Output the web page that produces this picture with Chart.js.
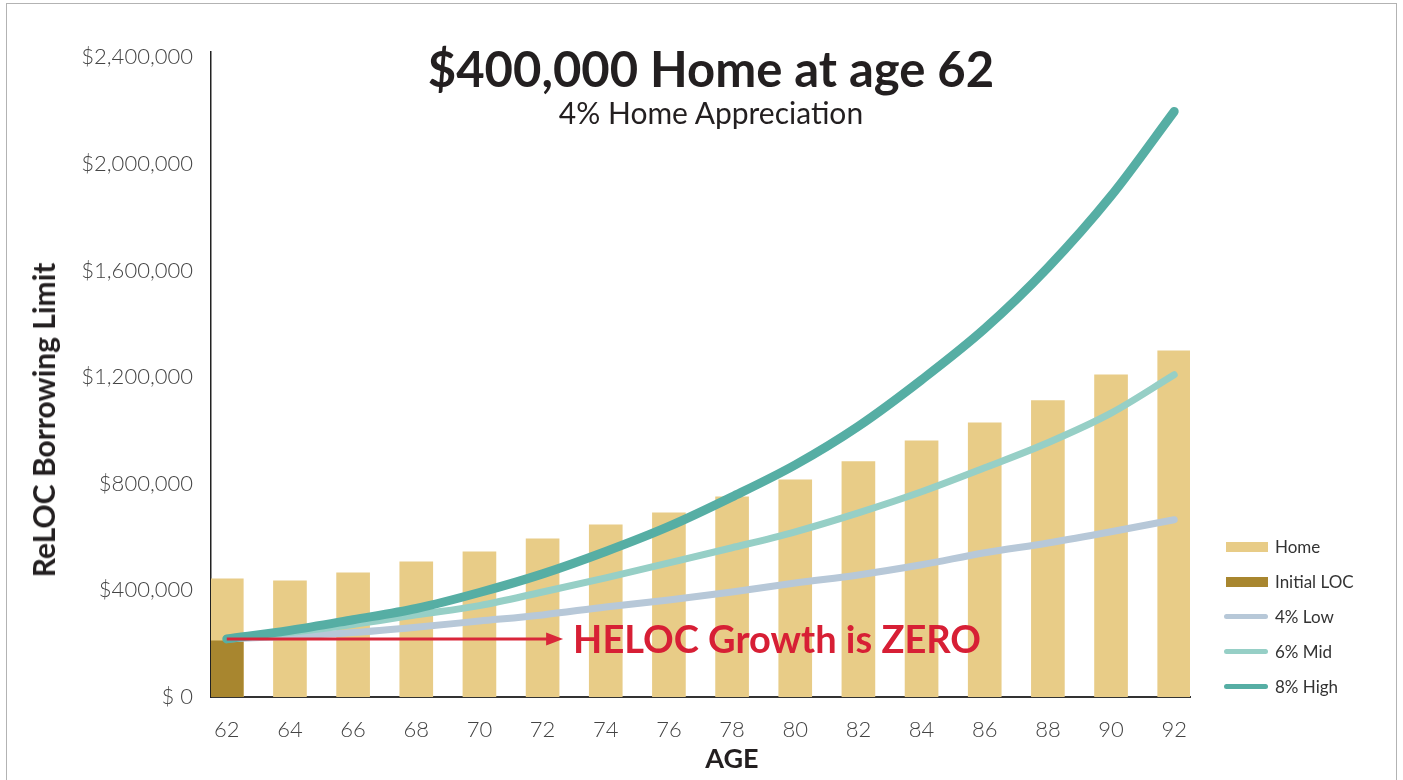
<!DOCTYPE html>
<html lang="en">
<head>
    <meta charset="UTF-8">
    <title>$400,000 Home at age 62</title>
    <style>
        body {
            margin: 0;
            padding: 0;
            background-color: #fff;
            font-family: 'Lato', 'Noto Sans', sans-serif;
            color: #231f20;
            overflow: hidden;
        }
        .page {
            position: relative;
            width: 1403px;
            height: 780px;
        }
        .frame {
            position: absolute;
            left: 6px;
            top: 3px;
            width: 1391px;
            height: 800px;
            border: 1.5px solid #b3b3b3;
            box-sizing: border-box;
        }
        .chart-box {
            position: absolute;
            left: 0;
            top: 0;
            width: 1403px;
            height: 780px;
        }
        .title {
            position: absolute;
            left: 411px;
            width: 600px;
            top: 40px;
            text-align: center;
            font-weight: bold;
            font-size: 49px;
            line-height: 56px;
        }
        .subtitle {
            position: absolute;
            left: 461px;
            width: 500px;
            top: 95px;
            text-align: center;
            font-size: 30px;
            line-height: 34px;
        }
        .y-title {
            position: absolute;
            left: 43px;
            top: 420px;
            transform: translate(-50%, -50%) rotate(-90deg);
            white-space: nowrap;
            font-weight: bold;
            font-size: 30px;
        }
        .x-title {
            position: absolute;
            left: 682px;
            width: 100px;
            top: 742px;
            text-align: center;
            font-weight: bold;
            font-size: 27px;
            line-height: 32px;
        }
        .heloc {
            position: absolute;
            white-space: nowrap;
            font-weight: bold;
            font-size: 38px;
            line-height: 40px;
            color: #d71f35;
        }
        .legend {
            position: absolute;
            left: 1224px;
            top: 529px;
        }
        .legend-item {
            display: flex;
            align-items: center;
            height: 35px;
            font-size: 17px;
            color: #333;
        }
        .legend-item .swatch {
            width: 44px;
            margin-right: 7px;
        }
        .swatch.box {
            height: 10px;
            width: 42px;
            margin-left: 2px;
        }
        .swatch.line {
            height: 5px;
            border-radius: 3px;
        }
    </style>
    <script src="https://cdn.jsdelivr.net/npm/chart.js"></script>
</head>
<body>
    <div class="page">
        <div class="frame"></div>
        <div class="chart-box"><canvas id="chart"></canvas></div>
        <div class="title">$400,000 Home at age 62</div>
        <div class="subtitle">4% Home Appreciation</div>
        <div class="y-title">ReLOC Borrowing Limit</div>
        <div class="x-title">AGE</div>
        <div class="heloc" id="heloc">HELOC Growth is ZERO</div>
        <div class="legend" id="legend"></div>
    </div>

    <script>
        // 数据
        const ages = [62, 64, 66, 68, 70, 72, 74, 76, 78, 80, 82, 84, 86, 88, 90, 92];
        const homeValues = [443000, 436000, 466000, 507000, 545000, 593000, 646000, 691000,
                            751000, 815000, 883000, 961000, 1029000, 1112000, 1209000, 1299000];
        const initialLocAge = 62;
        const initialLoc = 211000;
        const low4 = [218000, 228000, 242000, 262000, 285000, 308000, 338000, 364000,
                      394000, 428000, 458000, 496000, 541000, 578000, 620000, 665000];
        const mid6 = [218000, 242000, 272000, 308000, 343000, 394000, 447000, 503000,
                      560000, 620000, 691000, 770000, 860000, 954000, 1065000, 1209000];
        const high8 = [218000, 250000, 290000, 332000, 392000, 462000, 546000, 640000,
                       751000, 871000, 1016000, 1190000, 1382000, 1611000, 1880000, 2197000];
        const yTicks = [0, 400000, 800000, 1200000, 1600000, 2000000, 2400000];
        // HELOC 箭头: 从 62 岁到 72.65 岁, 数值不变
        const helocFrom = 62;
        const helocTo = 72.65;
        const helocValue = 218000;

        const colors = {
            home: '#e8cc87',
            loc: '#a8862f',
            low: '#b7c8d8',
            mid: '#96cfc6',
            high: '#56aea4',
            red: '#d71f35'
        };

        const points = values => ages.map((a, i) => ({ x: a, y: values[i] }));

        const legendItems = [
            { label: 'Home', color: colors.home, type: 'box' },
            { label: 'Initial LOC', color: colors.loc, type: 'box' },
            { label: '4% Low', color: colors.low, type: 'line' },
            { label: '6% Mid', color: colors.mid, type: 'line' },
            { label: '8% High', color: colors.high, type: 'line' }
        ];
        document.getElementById('legend').innerHTML = legendItems.map(item =>
            `<div class="legend-item"><span class="swatch ${item.type}" style="background:${item.color}"></span>${item.label}</div>`
        ).join('');

        // 画箭头, 并把文字放到箭头右边
        const helocArrow = {
            id: 'helocArrow',
            afterDatasetsDraw(chart) {
                const ctx = chart.ctx;
                const x1 = chart.scales.x.getPixelForValue(helocFrom);
                const x2 = chart.scales.x.getPixelForValue(helocTo);
                const y = chart.scales.y.getPixelForValue(helocValue);
                ctx.save();
                ctx.strokeStyle = '#d9263a';
                ctx.fillStyle = '#d9263a';
                ctx.lineWidth = 3;
                ctx.beginPath();
                ctx.moveTo(x1, y);
                ctx.lineTo(x2 - 14, y);
                ctx.stroke();
                ctx.beginPath();
                ctx.moveTo(x2, y);
                ctx.lineTo(x2 - 17, y - 6.5);
                ctx.lineTo(x2 - 17, y + 6.5);
                ctx.closePath();
                ctx.fill();
                ctx.restore();

                const label = document.getElementById('heloc');
                label.style.left = (x2 + 10) + 'px';
                label.style.top = (y - 21) + 'px';
            }
        };

        const tickFont = { family: 'Lato', size: 22, weight: 300 };

        new Chart(document.getElementById('chart'), {
            type: 'bar',
            data: {
                datasets: [
                    {
                        type: 'line',
                        label: '8% High',
                        data: points(high8),
                        borderColor: colors.high,
                        borderWidth: 9,
                        order: 0
                    },
                    {
                        type: 'line',
                        label: '6% Mid',
                        data: points(mid6),
                        borderColor: colors.mid,
                        borderWidth: 7,
                        order: 1
                    },
                    {
                        type: 'line',
                        label: '4% Low',
                        data: points(low4),
                        borderColor: colors.low,
                        borderWidth: 7,
                        order: 2
                    },
                    {
                        label: 'Initial LOC',
                        data: [{ x: initialLocAge, y: initialLoc }],
                        backgroundColor: colors.loc,
                        order: 3
                    },
                    {
                        label: 'Home',
                        data: points(homeValues),
                        backgroundColor: colors.home,
                        order: 4
                    }
                ]
            },
            options: {
                responsive: true,
                maintainAspectRatio: false,
                animation: false,
                layout: {
                    padding: { top: 52, right: 213, left: 0, bottom: 0 }
                },
                datasets: {
                    bar: { grouped: false, barThickness: 33 },
                    line: {
                        pointRadius: 0,
                        cubicInterpolationMode: 'monotone',
                        borderCapStyle: 'round',
                        borderJoinStyle: 'round',
                        clip: false
                    }
                },
                plugins: {
                    legend: { display: false },
                    tooltip: { enabled: false }
                },
                scales: {
                    x: {
                        type: 'linear',
                        offset: false,
                        min: 61.5,
                        max: 92.5,
                        grid: { display: false, drawTicks: false },
                        border: { color: '#333', width: 2 },
                        afterBuildTicks: scale => {
                            scale.ticks = ages.map(v => ({ value: v }));
                        },
                        afterFit: scale => { scale.height = 83; },
                        ticks: {
                            padding: 20,
                            color: '#444',
                            font: tickFont,
                            callback: v => String(v)
                        }
                    },
                    y: {
                        min: 0,
                        max: 2420000,
                        grid: { display: false, drawTicks: false },
                        border: { color: '#222', width: 1.5 },
                        afterBuildTicks: scale => {
                            scale.ticks = yTicks.map(v => ({ value: v }));
                        },
                        afterFit: scale => { scale.width = 211; },
                        ticks: {
                            padding: 18,
                            color: '#444',
                            font: tickFont,
                            callback: v => v === 0 ? '$ 0' : '$' + v.toLocaleString('en-US')
                        }
                    }
                }
            },
            plugins: [helocArrow]
        });
    </script>
</body>
</html>
